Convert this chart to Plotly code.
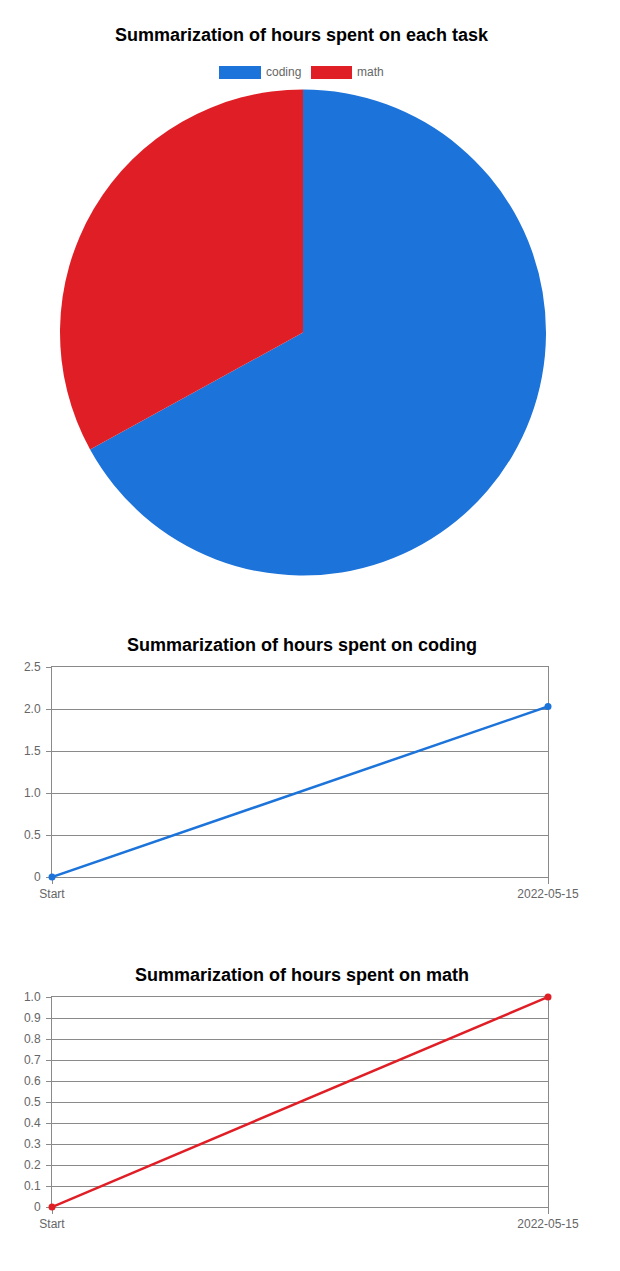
import plotly.graph_objects as go

tasks = ["coding", "math"]
task_hours = [2.03, 1.0]
colors = ["#1c73d9", "#e01e26"]

x_labels = ["Start", "2022-05-15"]
coding_hours = [0, 2.03]
math_hours = [0, 1.0]

coding_tickvals = [0, 0.5, 1.0, 1.5, 2.0, 2.5]
coding_ticktext = ["0", "0.5", "1.0", "1.5", "2.0", "2.5"]
math_tickvals = [0, 0.1, 0.2, 0.3, 0.4, 0.5, 0.6, 0.7, 0.8, 0.9, 1.0]
math_ticktext = ["0", "0.1", "0.2", "0.3", "0.4", "0.5", "0.6", "0.7", "0.8", "0.9", "1.0"]

W, H = 620, 1271
FONT = "Liberation Sans, Arial, sans-serif"
GRID = "#8a8a8a"
TICKC = "#666666"


def px_x(p):
    return p / W


def px_y(p):
    return 1 - p / H


fig = go.Figure()

fig.add_trace(go.Pie(
    labels=tasks, values=task_hours, sort=False, direction="clockwise",
    rotation=0, textinfo="none", hoverinfo="label+value+percent",
    marker=dict(colors=colors, line=dict(width=0)),
    domain=dict(x=[px_x(60), px_x(546)], y=[px_y(576), px_y(89)]),
    showlegend=False,
))

fig.add_trace(go.Scatter(
    x=x_labels, y=coding_hours, mode="lines+markers", xaxis="x", yaxis="y",
    line=dict(color=colors[0], width=2.5),
    marker=dict(size=7, color=colors[0], line=dict(width=0)),
    cliponaxis=False, showlegend=False, name="coding",
))
fig.add_trace(go.Scatter(
    x=x_labels, y=math_hours, mode="lines+markers", xaxis="x2", yaxis="y2",
    line=dict(color=colors[1], width=2.5),
    marker=dict(size=7, color=colors[1], line=dict(width=0)),
    cliponaxis=False, showlegend=False, name="math",
))

xaxis_common = dict(
    type="category", range=[0, 1], showgrid=False, automargin=False,
    ticks="outside", ticklen=6, tickcolor=GRID, tickwidth=1, layer="below traces",
    showline=True, mirror=True, linecolor=GRID, linewidth=1, zeroline=False,
    tickfont=dict(family=FONT, size=12, color=TICKC), fixedrange=True,
)
yaxis_common = dict(
    showgrid=True, gridcolor=GRID, gridwidth=1, automargin=False,
    ticks="outside", ticklen=5, tickcolor=GRID, tickwidth=1, ticklabelstandoff=3,
    layer="below traces",
    showline=True, mirror=True, linecolor=GRID, linewidth=1, zeroline=False,
    tickfont=dict(family=FONT, size=12, color=TICKC), fixedrange=True,
)

fig.update_layout(
    width=W, height=H, margin=dict(l=0, r=0, t=0, b=0, pad=0),
    paper_bgcolor="white", plot_bgcolor="white",
    font=dict(family=FONT),
    showlegend=False,
    xaxis=dict(domain=[px_x(52), px_x(548)], anchor="y", **xaxis_common),
    yaxis=dict(domain=[px_y(877), px_y(667)], anchor="x", range=[0, 2.5],
               tickvals=coding_tickvals, ticktext=coding_ticktext, **yaxis_common),
    xaxis2=dict(domain=[px_x(52), px_x(548)], anchor="y2", **xaxis_common),
    yaxis2=dict(domain=[px_y(1207), px_y(997)], anchor="x2", range=[0, 1.0],
                tickvals=math_tickvals, ticktext=math_ticktext, **yaxis_common),
)

titles = [
    ("Summarization of hours spent on each task", 35),
    ("Summarization of hours spent on coding", 645),
    ("Summarization of hours spent on math", 975),
]
for text, y in titles:
    fig.add_annotation(
        text=f"<b>{text}</b>", xref="paper", yref="paper", x=px_x(302), y=px_y(y),
        xanchor="center", yanchor="middle", showarrow=False,
        font=dict(family=FONT, size=18, color="#000000"),
    )

# legend for the pie
legend_items = [(tasks[0], colors[0], 219, 261), (tasks[1], colors[1], 311, 352)]
for name, col, x0, x1 in legend_items:
    fig.add_shape(type="rect", xref="paper", yref="paper",
                  x0=px_x(x0), x1=px_x(x1), y0=px_y(79), y1=px_y(66),
                  fillcolor=col, line=dict(width=0))
    fig.add_annotation(text=name, xref="paper", yref="paper", x=px_x(x1 + 3),
                       y=px_y(72), xanchor="left", yanchor="middle", showarrow=False,
                       font=dict(family=FONT, size=12, color="#666666"))

fig.write_html("out.html")
